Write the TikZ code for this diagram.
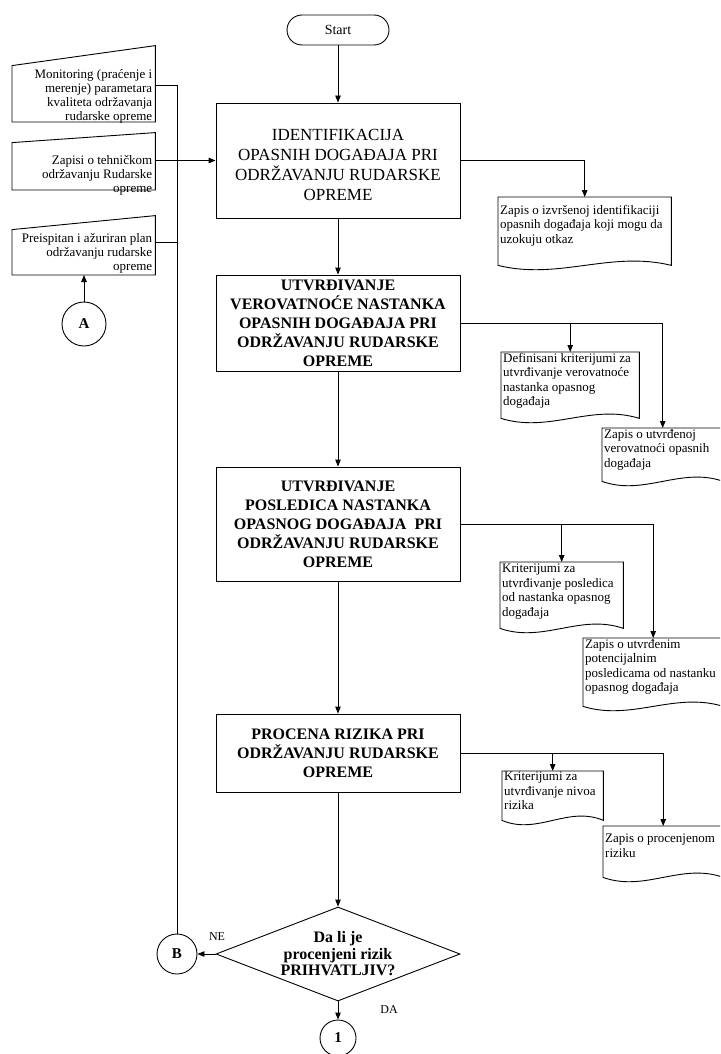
\documentclass[tikz,border=0pt]{standalone}
\usepackage{fontspec}
\setmainfont{Liberation Serif}
\usetikzlibrary{arrows.meta,calc,shapes.geometric}

\tikzset{
  line/.style={draw=black, line width=0.9pt},
  arr/.style={line, -{Triangle[length=7pt,width=5.5pt]}},
  procbox/.style={line, rectangle, minimum width=244pt, inner sep=0pt, align=center},
  procfont/.style={font=\fontsize{16}{19}\selectfont\bfseries},
  docnode/.style={rectangle, inner sep=0pt, anchor=north west, font=\fontsize{13}{14.5}\selectfont},
  inputnode/.style={rectangle, inner sep=0pt, anchor=south west, font=\fontsize{13}{14}\selectfont},
  connector/.style={line, circle, inner sep=0pt, font=\fontsize{15}{15}\selectfont\bfseries},
  flowlabel/.style={font=\fontsize{12}{12}\selectfont, inner sep=0pt},
}

% document text: width, height, top padding, lines
\newcommand\doccontent[4]{\parbox[t][#2pt][t]{#1pt}{\vspace*{#3pt}\raggedright\leftskip=2pt #4}}
% manual input text: width, height, bottom padding, lines (flush right, bottom aligned)
\newcommand\inputcontent[4]{\parbox[t][#2pt][b]{#1pt}{\raggedleft\rightskip=3pt #4\par\vspace*{#3pt}}}
% centred lines set a little below the middle of their box
\newcommand\lowered[2]{\raisebox{-#1pt}[\height][\depth]{\begin{tabular}{@{}c@{}}#2\end{tabular}}}

% document symbol outline with a wavy bottom edge
\newcommand\docedge[1]{%
  \draw[line] (#1.north west) -- (#1.north east) -- (#1.south east)
    .. controls ($(#1.south east)!0.35!(#1.south west)+(0,-15)$)
            and ($(#1.south east)!0.65!(#1.south west)+(0,15)$) .. (#1.south west) -- cycle;}
% manual input outline with a slanted top edge
\newcommand\inputedge[2]{%
  \draw[line] (#1.south west) -- ($(#1.north west)+(0,#2)$) -- (#1.north east) -- (#1.south east) -- cycle;}

\begin{document}
\begin{tikzpicture}[x=1pt,y=-1pt]
\useasboundingbox (0,0) rectangle (720,1054);
\clip (0,0) rectangle (720,1054);
\fill[white] (0,0) rectangle (720,1054);

% main process column
\node[line, rectangle, rounded corners=15pt, minimum width=102pt, minimum height=30pt,
      inner sep=0pt, font=\fontsize{14}{14}\selectfont] (start) at (338,30) {Start};

\node[procbox, minimum height=115pt, font=\fontsize{17}{19.5}\selectfont] (b1) at (338,160.5)
  {\lowered{6}{IDENTIFIKACIJA\\OPASNIH DOGAĐAJA PRI\\ODRŽAVANJU RUDARSKE\\OPREME}};
\node[procbox, procfont, minimum height=96pt] (b2) at (338,323)
  {UTVRĐIVANJE\\VEROVATNOĆE NASTANKA\\OPASNIH DOGAĐAJA PRI\\ODRŽAVANJU RUDARSKE\\OPREME};
\node[procbox, procfont, minimum height=114pt] (b3) at (338,524)
  {UTVRĐIVANJE\\POSLEDICA NASTANKA\\OPASNOG DOGAĐAJA\ \ PRI\\ODRŽAVANJU RUDARSKE\\OPREME};
\node[procbox, procfont, minimum height=78pt] (b4) at (338,753)
  {PROCENA RIZIKA PRI\\ODRŽAVANJU RUDARSKE\\OPREME};

\node[line, diamond, aspect=2.6, inner sep=0pt, minimum width=244pt, minimum height=94pt,
      align=center, font=\fontsize{16}{16.5}\selectfont\bfseries] (dec) at (338,954)
  {Da li je\\procenjeni rizik\\PRIHVATLJIV?};

\node[connector, minimum size=36pt] (one) at (338,1038) {1};
\node[connector, minimum size=40pt] (B) at (177,954) {B};
\node[connector, minimum size=44pt] (A) at (84,324) {A};

% inputs on the left
\node[inputnode] (l1) at (12,122) {\inputcontent{143}{76}{-1}{Monitoring (praćenje i\\merenje) parametara\\kvaliteta održavanja\\rudarske opreme}};
\node[inputnode] (l2) at (12,190) {\inputcontent{143}{57}{-5}{Zapisi o tehničkom\\održavanju Rudarske\\opreme}};
\node[inputnode] (l3) at (12,275) {\inputcontent{143}{59}{2}{Preispitan i ažuriran plan\\održavanju rudarske\\opreme}};
\inputedge{l1}{20}
\inputedge{l2}{10}
\inputedge{l3}{14}

% records on the right
\node[docnode] (d1) at (498,197) {\doccontent{173}{68}{8}{Zapis o izvršenoj identifikaciji\\opasnih događaja koji mogu da\\uzokuju otkaz}};
\node[docnode] (d2) at (501,352) {\doccontent{138}{66}{1}{Definisani kriterijumi za\\utvrđivanje verovatnoće\\nastanka opasnog\\događaja}};
\node[docnode] (d3) at (602,428) {\doccontent{121}{53}{1}{Zapis o utvrđenoj\\verovatnoći opasnih\\događaja}};
\node[docnode] (d4) at (500,562) {\doccontent{123}{66}{2}{Kriterijumi za\\utvrđivanje posledica\\od nastanka opasnog\\događaja}};
\node[docnode] (d5) at (583,638) {\doccontent{140}{68}{1}{Zapis o utvrđenim\\potencijalnim\\posledicama od nastanku\\opasnog događaja}};
\node[docnode] (d6) at (502,771) {\doccontent{101}{49}{1}{Kriterijumi za\\utvrđivanje nivoa\\rizika}};
\node[docnode] (d7) at (603,826) {\doccontent{120}{51}{8}{Zapis o procenjenom\\riziku}};
\docedge{d1}
\docedge{d2}
\docedge{d3}
\docedge{d4}
\docedge{d5}
\docedge{d6}
\docedge{d7}

% main flow
\draw[arr] (start) -- (b1);
\draw[arr] (b1) -- (b2);
\draw[arr] (b2) -- (b3);
\draw[arr] (b3) -- (b4);
\draw[arr] (b4) -- (dec);
\draw[arr] (dec) -- (one);
\draw[arr] (dec.west) -- (B);

% left side connections
\coordinate (j1) at (177,85);
\coordinate (j3) at (177,242);
\draw[line] (l1.east |- j1) -- (j1) -- (B);
\draw[line] (l3.east |- j3) -- (j3);
\draw[arr] (b1.west -| l2.east) -- (b1.west);
\draw[arr] (A.north) -- (A.north |- l3.south);

% outputs to records
\draw[arr] (b1.east) -| (d1.north);
\draw[arr] (b2.east) -| (d3.north);
\draw[arr] (b2.east -| d2.north) -- (d2.north);
\draw[arr] (b3.east) -| (d5.north);
\draw[arr] (b3.east -| d4.north) -- (d4.north);
\draw[arr] (b4.east) -| (d7.north);
\draw[arr] (b4.east -| d6.north) -- (d6.north);

% decision labels
\node[flowlabel] (ne) at (217,937) {NE};
\node[flowlabel] (da) at (389,1010) {DA};
\end{tikzpicture}
\end{document}
